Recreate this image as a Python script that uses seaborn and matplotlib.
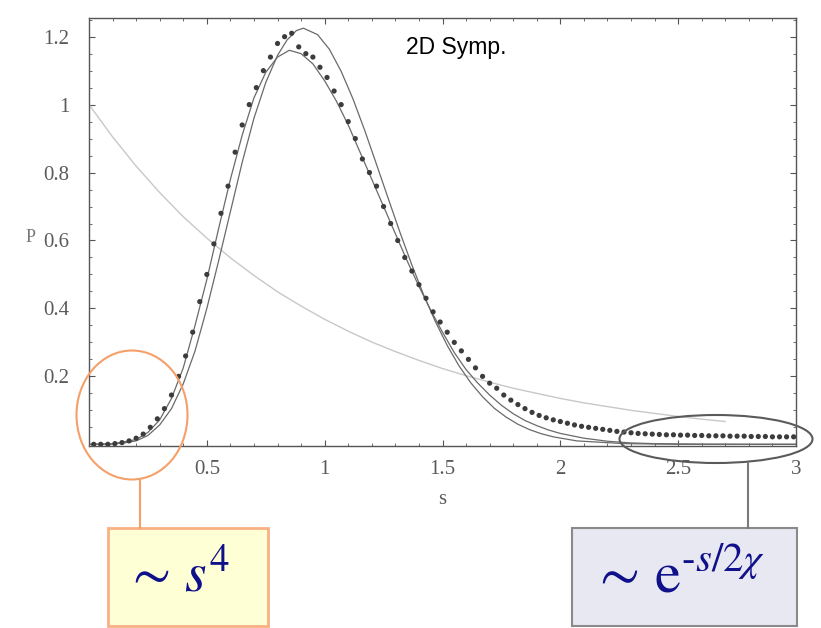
"""Level-spacing distribution P(s), 2D symplectic ensemble, with annotations."""

import matplotlib.pyplot as plt
import matplotlib.ticker as mticker
from matplotlib.patches import Ellipse, Rectangle
import pandas as pd
import seaborn as sns

# --- data ----------------------------------------------------------------
# numerical histogram (dots)
data_s = [0.02, 0.05, 0.08, 0.11, 0.14, 0.17, 0.20, 0.23, 0.26, 0.29,
          0.32, 0.35, 0.38, 0.41, 0.44, 0.47, 0.50, 0.53, 0.56, 0.59,
          0.62, 0.65, 0.68, 0.71, 0.74, 0.77, 0.80, 0.83, 0.86, 0.89,
          0.92, 0.95, 0.98, 1.01, 1.04, 1.07, 1.10, 1.13, 1.16, 1.19,
          1.22, 1.25, 1.28, 1.31, 1.34, 1.37, 1.40, 1.43, 1.46, 1.49,
          1.52, 1.55, 1.58, 1.61, 1.64, 1.67, 1.70, 1.73, 1.76, 1.79,
          1.82, 1.85, 1.88, 1.91, 1.94, 1.97, 2.00, 2.03, 2.06, 2.09,
          2.12, 2.15, 2.18, 2.21, 2.24, 2.27, 2.30, 2.33, 2.36, 2.39,
          2.42, 2.45, 2.48, 2.51, 2.54, 2.57, 2.60, 2.63, 2.66, 2.69,
          2.72, 2.75, 2.78, 2.81, 2.84, 2.87, 2.90, 2.93, 2.96, 2.99]
data_p = [0.000, 0.000, 0.000, 0.002, 0.005, 0.010, 0.018, 0.030, 0.050, 0.075,
          0.105, 0.145, 0.200, 0.260, 0.330, 0.420, 0.500, 0.590, 0.680, 0.760,
          0.860, 0.940, 1.000, 1.050, 1.100, 1.140, 1.180, 1.200, 1.210, 1.170,
          1.150, 1.140, 1.110, 1.080, 1.040, 1.000, 0.950, 0.900, 0.840, 0.800,
          0.760, 0.700, 0.650, 0.600, 0.550, 0.510, 0.470, 0.430, 0.390, 0.360,
          0.330, 0.300, 0.275, 0.250, 0.225, 0.200, 0.180, 0.165, 0.145, 0.130,
          0.117, 0.105, 0.094, 0.085, 0.078, 0.072, 0.067, 0.062, 0.057, 0.053,
          0.050, 0.047, 0.044, 0.041, 0.038, 0.036, 0.034, 0.032, 0.031, 0.030,
          0.029, 0.028, 0.028, 0.027, 0.027, 0.026, 0.026, 0.025, 0.025, 0.025,
          0.024, 0.024, 0.024, 0.023, 0.023, 0.023, 0.022, 0.022, 0.022, 0.022]

# lower solid curve (follows the dots)
lower_s = [0.0, 0.1, 0.2, 0.25, 0.3, 0.35, 0.4, 0.45, 0.5, 0.55, 0.6, 0.65,
           0.7, 0.75, 0.8, 0.85, 0.9, 0.95, 1.0, 1.05, 1.1, 1.15, 1.2, 1.25,
           1.3, 1.35, 1.4, 1.45, 1.5, 1.55, 1.6, 1.65, 1.7, 1.75, 1.8, 1.85,
           1.9, 1.95, 2.0, 2.1, 2.2, 2.3, 2.4, 2.6, 2.8, 3.0]
lower_p = [0.0, 0.001, 0.014, 0.035, 0.072, 0.135, 0.225, 0.35, 0.485, 0.635, 0.78, 0.91,
           1.02, 1.095, 1.14, 1.16, 1.15, 1.12, 1.07, 1.01, 0.94, 0.86, 0.78, 0.70,
           0.62, 0.54, 0.465, 0.395, 0.33, 0.27, 0.22, 0.18, 0.145, 0.115, 0.09, 0.07,
           0.055, 0.042, 0.032, 0.018, 0.009, 0.004, 0.002, 0.0005, 0.0, 0.0]

# upper solid curve (surmise, higher peak)
upper_s = [0.0, 0.1, 0.15, 0.2, 0.25, 0.3, 0.35, 0.4, 0.45, 0.5, 0.55, 0.6,
           0.65, 0.7, 0.75, 0.8, 0.84, 0.88, 0.91, 0.97, 1.02, 1.07, 1.12, 1.17,
           1.22, 1.27, 1.32, 1.37, 1.42, 1.47, 1.52, 1.57, 1.62, 1.67, 1.72, 1.77,
           1.82, 1.87, 1.92, 1.97, 2.07, 2.27, 2.5, 3.0]
upper_p = [0.0, 0.001, 0.004, 0.010, 0.026, 0.057, 0.105, 0.178, 0.275, 0.400, 0.540, 0.685,
           0.830, 0.960, 1.065, 1.145, 1.190, 1.218, 1.225, 1.206, 1.163, 1.098, 1.017, 0.924,
           0.824, 0.723, 0.623, 0.528, 0.440, 0.361, 0.291, 0.231, 0.181, 0.140, 0.106, 0.080,
           0.059, 0.043, 0.031, 0.022, 0.010, 0.002, 0.0, 0.0]

# faint Poisson curve
poisson_s = [0.0, 0.1, 0.2, 0.3, 0.4, 0.5, 0.6, 0.7, 0.8, 0.9, 1.0, 1.1, 1.2, 1.3,
             1.4, 1.5, 1.6, 1.7, 1.8, 1.9, 2.0, 2.1, 2.2, 2.3, 2.4, 2.5, 2.6, 2.7]
poisson_p = [1.0, 0.905, 0.819, 0.741, 0.670, 0.607, 0.549, 0.497, 0.449, 0.407,
             0.368, 0.333, 0.301, 0.273, 0.247, 0.223, 0.202, 0.183, 0.165, 0.150,
             0.135, 0.122, 0.111, 0.100, 0.091, 0.082, 0.074, 0.067]

x_ticks = [0.5, 1, 1.5, 2, 2.5, 3]
x_tick_labels = ["0.5", "1", "1.5", "2", "2.5", "3"]
y_ticks = [0.2, 0.4, 0.6, 0.8, 1.0, 1.2]
y_tick_labels = ["0.2", "0.4", "0.6", "0.8", "1", "1.2"]

# --- figure ---------------------------------------------------------------
sns.set_style("ticks")
plt.rcParams["font.family"] = ["Liberation Serif", "DejaVu Serif"]
plt.rcParams["mathtext.fontset"] = "stix"

W, H = 821, 628
fig = plt.figure(figsize=(W / 100, H / 100), dpi=100)
ax = fig.add_axes([89 / W, 1 - 446 / H, (796 - 89) / W, (446 - 18) / H])

scan = "#555555"
sns.lineplot(x=poisson_s, y=poisson_p, ax=ax, color="#c8c8c8", lw=1.0, sort=False)
sns.lineplot(x=upper_s, y=upper_p, ax=ax, color="#6a6a6a", lw=0.9, sort=False)
sns.lineplot(x=lower_s, y=lower_p, ax=ax, color="#6a6a6a", lw=0.9, sort=False)
dots = pd.DataFrame({"s": data_s, "P": data_p})
sns.scatterplot(data=dots, x="s", y="P", ax=ax, color="#3c3c3c", s=14,
                marker="o", edgecolor="none", zorder=5)

ax.set_xlim(0, 3.0)
ax.set_ylim(-0.005, 1.255)
ax.set_xticks(x_ticks)
ax.set_xticklabels(x_tick_labels)
ax.set_yticks(y_ticks)
ax.set_yticklabels(y_tick_labels)
ax.xaxis.set_minor_locator(mticker.MultipleLocator(0.1))
ax.yaxis.set_minor_locator(mticker.MultipleLocator(0.05))
ax.tick_params(which="both", direction="in", top=True, right=True,
               color=scan, labelcolor="#5a5a5a", labelsize=15)
ax.tick_params(which="major", length=4, width=0.8)
ax.tick_params(which="minor", length=2, width=0.6)
ax.tick_params(axis="x", pad=10)
ax.tick_params(axis="y", pad=14)
for sp in ax.spines.values():
    sp.set_visible(True)
    sp.set_color(scan)
    sp.set_linewidth(1.0)
ax.set_xlabel("s", color="#5a5a5a", fontsize=15, labelpad=8)
ax.set_ylabel("")
fig.text(31 / W, 1 - 238 / H, "P", color="#777777", fontsize=13,
         ha="center", va="center")

ax.text(0.52, 0.93, "2D Symp.", transform=ax.transAxes, fontsize=16.5,
        family="Liberation Sans", color="black", ha="center", va="center")


# --- annotations in figure pixels -----------------------------------------
def fx(x):
    return x / W


def fy(y):
    return 1 - y / H


fig.add_artist(Ellipse((fx(132), fy(415)), 111 / W, 129 / H, fill=False,
                       edgecolor="#f5a06a", lw=1.5, transform=fig.transFigure))
fig.add_artist(plt.Line2D([fx(140), fx(140)], [fy(479), fy(528)],
                          color="#f5a06a", lw=1.5, transform=fig.transFigure))
fig.add_artist(Rectangle((fx(108), fy(626)), 160 / W, 98 / H,
                         facecolor="#ffffd6", edgecolor="#f8b084", lw=2,
                         transform=fig.transFigure))
fig.text(fx(177), fy(577), r"$\sim\, s^4$", fontsize=40, color="#10108a",
         ha="center", va="center")

fig.add_artist(Ellipse((fx(716), fy(439)), 193 / W, 48 / H, fill=False,
                       edgecolor="#5a5a5a", lw=1.5, transform=fig.transFigure))
fig.add_artist(plt.Line2D([fx(748), fx(748)], [fy(463), fy(528)],
                          color="#7a7a7a", lw=1.5, transform=fig.transFigure))
fig.add_artist(Rectangle((fx(572), fy(626)), 225 / W, 98 / H,
                         facecolor="#e8e8f3", edgecolor="#8a8a8a", lw=1.5,
                         transform=fig.transFigure))
fig.text(fx(678), fy(578), r"$\sim\, \mathrm{e}^{\text{-}s/2\chi}$", fontsize=42,
         color="#10108a", ha="center", va="center")

plt.savefig("out.png", dpi=100)
plt.close()
